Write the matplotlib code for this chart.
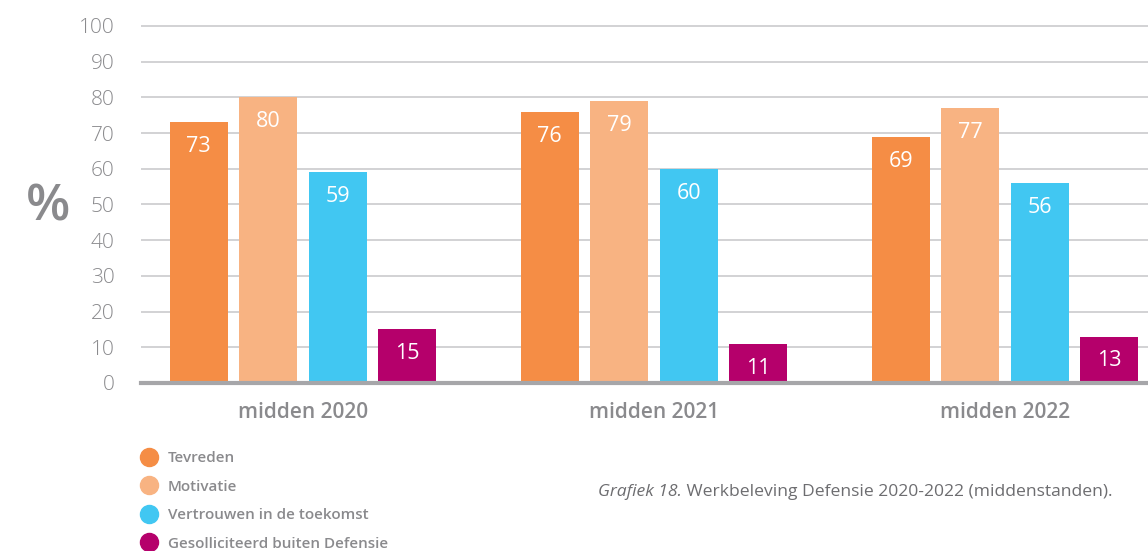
import matplotlib.pyplot as plt
from matplotlib.lines import Line2D
import numpy as np

years = ["midden 2020", "midden 2021", "midden 2022"]
series = ["Tevreden", "Motivatie", "Vertrouwen in de toekomst", "Gesolliciteerd buiten Defensie"]
tevreden = [73, 76, 69]
motivatie = [80, 79, 77]
vertrouwen = [59, 60, 56]
gesolliciteerd = [15, 11, 13]
colors = ["#F58D45", "#F8B382", "#41C7F2", "#B5006B"]

grey = "#8a8a8d"
plt.rcParams['font.family'] = ['Open Sans', 'DejaVu Sans']

fig = plt.figure(figsize=(11.48, 5.51), dpi=100)
ax = fig.add_axes([141/1148, 168/551, 1 - 141/1148, 360.6/551])

x = np.arange(len(years))
step = 0.198
width = 0.165
for i, (vals, c) in enumerate(zip([tevreden, motivatie, vertrouwen, gesolliciteerd], colors)):
    pos = x + (i - 1.5) * step
    ax.bar(pos, vals, width, color=c, zorder=3)
    for px, v in zip(pos, vals):
        ax.annotate(str(v), (px, v), xytext=(0, -10), textcoords='offset points',
                    ha='center', va='top', color='white', fontsize=15.5, zorder=4)

ax.set_xlim(-0.4615, 2.407)
ax.set_ylim(0, 101)
ax.set_yticks(range(0, 101, 10))
ax.yaxis.grid(True, color="#cbcbcd", lw=1.2, zorder=0)
ax.set_axisbelow(True)
for s in ['top', 'right', 'left']:
    ax.spines[s].set_visible(False)
ax.spines['bottom'].set_color("#a6a6a9")
ax.spines['bottom'].set_linewidth(3)
ax.spines['bottom'].set_zorder(5)
ax.tick_params(axis='y', length=0, pad=19, labelcolor=grey, labelsize=15)
ax.set_xticks(x)
ax.set_xticklabels(years, fontsize=15, fontweight='semibold', color=grey)
ax.tick_params(axis='x', length=0, pad=14)
for lbl in ax.get_yticklabels():
    lbl.set_fontweight('light')

fig.text(48/1148, 1 - 207/551, "%", fontsize=37, fontweight='semibold', color=grey,
         ha='center', va='center')

handles = [Line2D([], [], marker='o', ls='', color=c, markersize=13) for c in colors]
leg = fig.legend(handles, series, loc='upper left', bbox_to_anchor=(140/1148, 1 - 451/551),
                 frameon=False, fontsize=11, labelspacing=0.95, handletextpad=0.6,
                 handlelength=1.2, borderaxespad=0, borderpad=0)
for t in leg.get_texts():
    t.set_color(grey)
    t.set_fontweight('semibold')

t1 = fig.text(598/1148, 1 - 492/551, "Grafiek 18.", fontsize=12.6, style='italic',
              color="#6d6d70", va='center')
ax.annotate(" Werkbeleving Defensie 2020-2022 (middenstanden).", xy=(1, 0.5), xycoords=t1,
            va='center', ha='left', fontsize=12.6, color="#6d6d70", annotation_clip=False)

fig.savefig("out.png", dpi=100)
